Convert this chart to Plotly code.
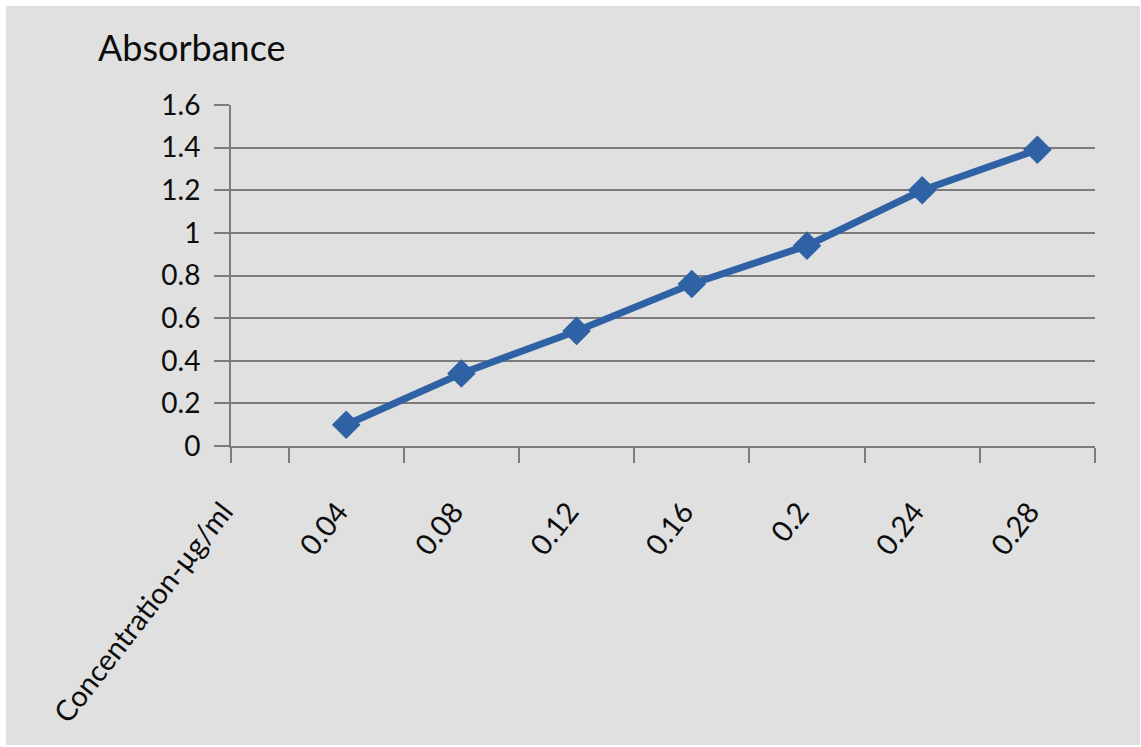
import plotly.graph_objects as go

# Category axis: the first slot carries the axis caption, the rest are concentrations
categories = ["Concentration-µg/ml", "0.04", "0.08", "0.12", "0.16", "0.2", "0.24", "0.28"]
concentrations = ["0.04", "0.08", "0.12", "0.16", "0.2", "0.24", "0.28"]
absorbance = [0.10, 0.34, 0.54, 0.76, 0.94, 1.20, 1.39]

x_pos = [categories.index(c) for c in concentrations]
n_cat = len(categories)
x_range = [0, n_cat - 0.5]
boundary_ticks = [0] + [i + 0.5 for i in range(n_cat)]

BG = "#e0e0e0"
GRID = "#7c7c7c"
BLUE = "#2e62a4"
FONT = "Lato"
INK = "#0c0c0c"

fig = go.Figure()
fig.add_trace(go.Scatter(
    x=x_pos, y=absorbance,
    mode="lines+markers",
    line=dict(color=BLUE, width=7),
    marker=dict(symbol="diamond", size=22, color=BLUE),
    xaxis="x", yaxis="y",
    showlegend=False,
    hoverinfo="skip",
))

L, R, T, B = 231, 46, 105, 301
W, H = 1141, 747
pw, ph = W - L - R, H - T - B

def px_x(p):
    return (p - L) / pw

def px_y(p):
    return (H - B - p) / ph

fig.update_layout(
    width=W, height=H,
    margin=dict(l=L, r=R, t=T, b=B),
    paper_bgcolor="white",
    plot_bgcolor=BG,
    font=dict(family=FONT, color=INK),
    xaxis=dict(
        range=x_range,
        tickmode="array", tickvals=boundary_ticks,
        showticklabels=False,
        ticks="outside", ticklen=15, tickwidth=2, tickcolor=GRID,
        showline=True, linecolor=GRID, linewidth=2,
        showgrid=False, zeroline=False,
    ),
    xaxis2=dict(
        overlaying="x", anchor="y", side="bottom",
        range=x_range,
        tickmode="array", tickvals=list(range(n_cat)), ticktext=categories,
        tickangle=-52,
        ticks="", showgrid=False, showline=False, zeroline=False,
        tickfont=dict(family=FONT, size=29, color=INK),
        ticklabelstandoff=42,
        ticklabelshift=-8,
    ),
    yaxis=dict(
        range=[0, 1.6], dtick=0.2, tick0=0,
        ticks="outside", ticklen=15, tickwidth=2, tickcolor=GRID,
        showline=True, linecolor=GRID, linewidth=2,
        showgrid=True, gridcolor=GRID, gridwidth=2,
        zeroline=False,
        tickfont=dict(family=FONT, size=28, color=INK),
        ticklabelstandoff=8,
    ),
    shapes=[dict(
        type="rect", xref="paper", yref="paper", layer="below",
        x0=px_x(6), x1=px_x(1140), y0=px_y(745), y1=px_y(6),
        fillcolor=BG, line=dict(width=0),
    )],
    annotations=[dict(
        text="Absorbance", xref="paper", yref="paper",
        x=px_x(96), y=px_y(47), xanchor="left", yanchor="middle",
        showarrow=False, font=dict(family=FONT, size=36, color=INK),
    )],
)

# Invisible trace so the overlaying category axis is rendered
fig.add_trace(go.Scatter(x=[0], y=[None], xaxis="x2", yaxis="y",
                         showlegend=False, hoverinfo="skip"))

fig.write_html("out.html")
